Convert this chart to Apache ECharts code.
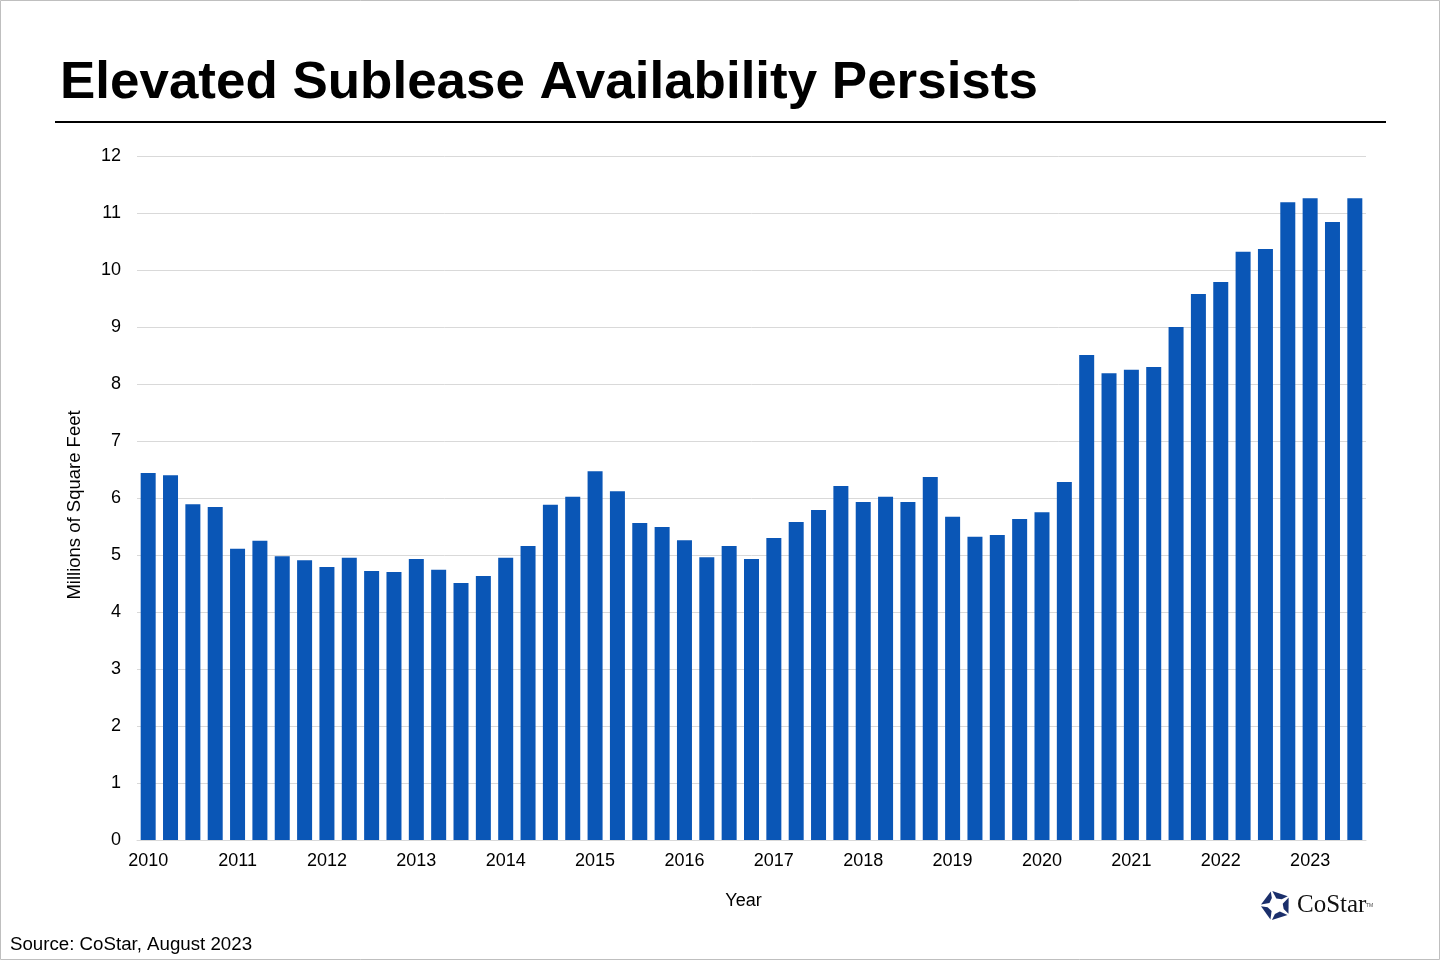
<!DOCTYPE html>
<html>
<head>
<meta charset="utf-8">
<script src="https://cdn.jsdelivr.net/npm/echarts@6/dist/echarts.min.js"></script>
<style>
html,body{margin:0;padding:0;background:#fff;}
#chart{width:1440px;height:960px;}
</style>
</head>
<body>
<div id="chart"></div>
<script>
// years shown on the axis, one bar per quarter
var years = ['2010','2011','2012','2013','2014','2015','2016','2017','2018','2019','2020','2021','2022','2023'];
var quarters = ['Q1','Q2','Q3','Q4'];
// sublease availability, millions of sq ft, 2010 Q1 .. 2023 Q3
var sublease = [
	6.44, 6.40, 5.89, 5.84,
	5.11, 5.25, 4.98, 4.91,
	4.79, 4.95, 4.72, 4.70,
	4.93, 4.74, 4.51, 4.63,
	4.95, 5.16, 5.88, 6.02,
	6.47, 6.12, 5.56, 5.49,
	5.26, 4.96, 5.16, 4.93,
	5.30, 5.58, 5.79, 6.21,
	5.93, 6.02, 5.93, 6.37,
	5.67, 5.32, 5.35, 5.63,
	5.75, 6.28, 8.51, 8.19,
	8.25, 8.30, 9.00, 9.58,
	9.79, 10.32, 10.37, 11.19,
	11.26, 10.84, 11.26
];
var yTicks = [0, 12, 1]; // min, max, step

var categories = [];
for (var i = 0; i < sublease.length; i++) {
	categories.push(years[Math.floor(i / 4)] + ' ' + quarters[i % 4]);
}

// CoStar mark: five blocks round a pentagon, white star in the middle
function logoPieces(){
	var pieces = [];
	for (var k = 0; k < 5; k++) {
		var a = -Math.PI / 2 + k * Math.PI * 2 / 5;
		var pts = [[15, a - 0.25], [15, a + 0.9], [8.5, a + 0.75], [7, a + 0.05]].map(function (p) {
			return [15 + p[0] * Math.cos(p[1]), 15 + p[0] * Math.sin(p[1])];
		});
		pieces.push({type: 'polygon', shape: {points: pts}, style: {fill: '#1b2f6b'}});
	}
	return pieces;
}

var chart = echarts.init(document.getElementById('chart'));
var font = 'Arial, "Liberation Sans", sans-serif';
var option = {
	backgroundColor: '#fff',
	animation: false,
	graphic: [
		{type: 'rect', shape: {x: 0.5, y: 0.5, width: 1439, height: 959}, style: {fill: 'none', stroke: '#bfbfbf', lineWidth: 1}},
		{type: 'text', left: 60, top: 58, scaleX: 1.018, style: {text: 'Elevated Sublease Availability Persists', fill: '#000', font: 'bold 52px ' + font}},
		{type: 'line', shape: {x1: 55, y1: 122, x2: 1386, y2: 122}, style: {stroke: '#000', lineWidth: 2}},
		{type: 'text', left: 10, top: 935, style: {text: 'Source: CoStar, August 2023', fill: '#000', font: '18.7px ' + font}},
		{type: 'text', left: 1297, top: 893, style: {text: 'CoStar', fill: '#111', font: '25px "Liberation Serif", "DejaVu Serif", serif'}},
		{type: 'text', left: 1366, top: 903, style: {text: 'TM', fill: '#444', font: '5px ' + font}},
		{type: 'group', left: 1261, top: 891, children: logoPieces()}
	],
	grid: {left: 137, right: 74, top: 156, bottom: 120},
	xAxis: {
		type: 'category',
		data: categories,
		name: 'Year',
		nameLocation: 'middle',
		nameGap: 52,
		nameTextStyle: {color: '#000', fontSize: 18, fontFamily: font, padding: [0, 16, 0, 0]},
		axisLine: {show: true, lineStyle: {color: '#d9d9d9', width: 1}},
		axisTick: {show: false},
		axisLabel: {
			interval: 3,
			color: '#000',
			fontSize: 18,
			fontFamily: font,
			margin: 12,
			formatter: function (v) { return v.split(' ')[0]; }
		}
	},
	yAxis: {
		type: 'value',
		min: yTicks[0],
		max: yTicks[1],
		interval: yTicks[2],
		name: 'Millions of Square Feet',
		nameLocation: 'middle',
		nameGap: 53,
		nameTextStyle: {color: '#000', fontSize: 18.5, fontFamily: font, padding: [0, 14, 0, 0]},
		axisLine: {show: false},
		axisTick: {show: false},
		axisLabel: {color: '#000', fontSize: 18, fontFamily: font, margin: 16},
		splitLine: {lineStyle: {color: '#d9d9d9', width: 1}}
	},
	series: [{
		type: 'bar',
		data: sublease,
		barWidth: 15,
		itemStyle: {color: '#0a56b6'}
	}]
};
chart.setOption(option);
</script>
</body>
</html>
